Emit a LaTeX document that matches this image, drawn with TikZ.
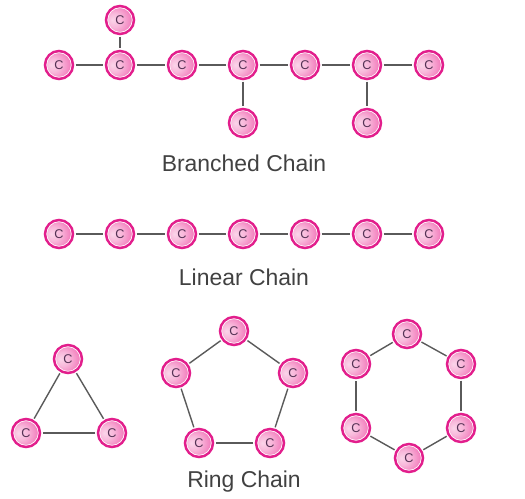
\documentclass[tikz,border=0pt]{standalone}
\usepackage{fontspec}
\setmainfont{Liberation Sans}
\definecolor{ringpink}{RGB}{226,30,140}
\definecolor{ballpink}{RGB}{236,60,155}
\definecolor{letterc}{RGB}{85,50,85}
\definecolor{bondgray}{RGB}{90,90,90}
\definecolor{labelgray}{RGB}{65,65,65}
\pgfdeclareradialshading{atomball}{\pgfpoint{-16bp}{0bp}}{%
  color(0bp)=(ballpink!22!white); color(14bp)=(ballpink!36!white);
  color(34bp)=(ballpink!72!white); color(54bp)=(ballpink)}
\tikzset{
  atom/.style  = {circle, shading=atomball, draw=white, line width=0.5pt,
                  preaction={draw=ringpink, line width=4.4pt}, minimum size=18.4pt,
                  inner sep=0pt, outer sep=3.2pt, text=letterc, font=\fontsize{9.5}{9.5}\selectfont},
  bond/.style  = {line width=1.05pt, bondgray},
  title/.style = {text=labelgray, font=\fontsize{17.2}{20}\selectfont},
}
\begin{document}
\begin{tikzpicture}[x=0.75pt,y=-0.75pt]
  \useasboundingbox (0,0) rectangle (525,499);
  % branched
  \node[atom] (b1) at (59,65) {C};
  \node[atom] (b2) at (120,65) {C};
  \node[atom] (b3) at (182,65) {C};
  \node[atom] (b4) at (243,65) {C};
  \node[atom] (b5) at (305,65) {C};
  \node[atom] (b6) at (367,65) {C};
  \node[atom] (b7) at (429,65) {C};
  \node[atom] (bt) at (120,20) {C};
  \node[atom] (bl) at (243,123) {C};
  \node[atom] (br) at (367,123) {C};
  \draw[bond] (b1) -- (b2); \draw[bond] (b2) -- (b3); \draw[bond] (b3) -- (b4);
  \draw[bond] (b4) -- (b5); \draw[bond] (b5) -- (b6); \draw[bond] (b6) -- (b7);
  \draw[bond] (bt) -- (b2); \draw[bond] (b4) -- (bl); \draw[bond] (b6) -- (br);
  \node[title] (tb) at (244,163) {Branched Chain};
  % linear
  \node[atom] (l1) at (59,234) {C};
  \node[atom] (l2) at (120,234) {C};
  \node[atom] (l3) at (182,234) {C};
  \node[atom] (l4) at (243,234) {C};
  \node[atom] (l5) at (305,234) {C};
  \node[atom] (l6) at (367,234) {C};
  \node[atom] (l7) at (429,234) {C};
  \draw[bond] (l1) -- (l2); \draw[bond] (l2) -- (l3); \draw[bond] (l3) -- (l4);
  \draw[bond] (l4) -- (l5); \draw[bond] (l5) -- (l6); \draw[bond] (l6) -- (l7);
  \node[title] (tl) at (244,277) {Linear Chain};
  % triangle
  \node[atom] (t1) at (68,359) {C};
  \node[atom] (t2) at (112,433) {C};
  \node[atom] (t3) at (26,433) {C};
  \draw[bond] (t1) -- (t2); \draw[bond] (t2) -- (t3); \draw[bond] (t3) -- (t1);
  % pentagon
  \node[atom] (p1) at (234,331) {C};
  \node[atom] (p2) at (293,373) {C};
  \node[atom] (p3) at (270,443) {C};
  \node[atom] (p4) at (199,443) {C};
  \node[atom] (p5) at (176,373) {C};
  \draw[bond] (p1) -- (p2); \draw[bond] (p2) -- (p3); \draw[bond] (p3) -- (p4);
  \draw[bond] (p4) -- (p5); \draw[bond] (p5) -- (p1);
  % hexagon
  \node[atom] (h1) at (407,334) {C};
  \node[atom] (h2) at (461,364) {C};
  \node[atom] (h3) at (461,428) {C};
  \node[atom] (h4) at (409,458) {C};
  \node[atom] (h5) at (356,428) {C};
  \node[atom] (h6) at (356,364) {C};
  \draw[bond] (h1) -- (h2); \draw[bond] (h2) -- (h3); \draw[bond] (h3) -- (h4);
  \draw[bond] (h4) -- (h5); \draw[bond] (h5) -- (h6); \draw[bond] (h6) -- (h1);
  \node[title] (tr) at (244,482) {Ring Chain};
\end{tikzpicture}
\end{document}
